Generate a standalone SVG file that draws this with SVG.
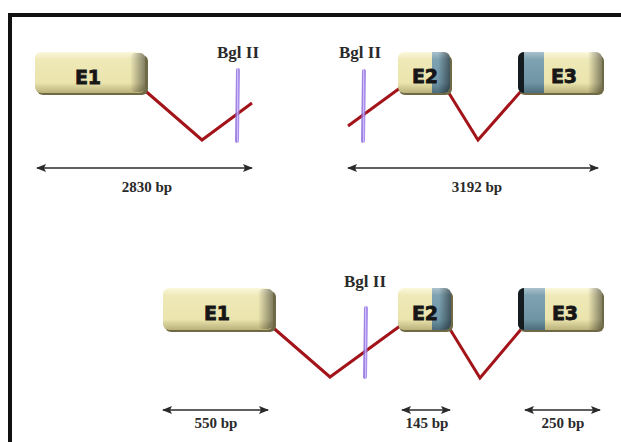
<svg xmlns="http://www.w3.org/2000/svg" width="621" height="442" viewBox="0 0 621 442">
  <defs>
    <linearGradient id="gYellow" x1="0" y1="0" x2="0" y2="1">
      <stop offset="0" stop-color="#fbf8dc"/>
      <stop offset="0.18" stop-color="#efe9b8"/>
      <stop offset="0.75" stop-color="#ebe4ad"/>
      <stop offset="1" stop-color="#b9b07a"/>
    </linearGradient>
    <linearGradient id="gBlue" x1="0" y1="0" x2="0" y2="1">
      <stop offset="0" stop-color="#a9c2cc"/>
      <stop offset="0.18" stop-color="#7fa2b1"/>
      <stop offset="0.75" stop-color="#6f95a5"/>
      <stop offset="1" stop-color="#4c6c7a"/>
    </linearGradient>
    <linearGradient id="gSide" x1="0" y1="0" x2="1" y2="0">
      <stop offset="0" stop-color="#000" stop-opacity="0"/>
      <stop offset="1" stop-color="#000" stop-opacity="0.45"/>
    </linearGradient>
    <linearGradient id="gPurple" x1="0" y1="0" x2="1" y2="0">
      <stop offset="0" stop-color="#8f6fe0"/>
      <stop offset="0.5" stop-color="#c9aef8"/>
      <stop offset="1" stop-color="#9c7ee6"/>
    </linearGradient>
    <marker id="ah" viewBox="0 0 10 8" refX="9" refY="4" markerWidth="10" markerHeight="8" markerUnits="userSpaceOnUse" orient="auto-start-reverse">
      <path d="M0,0 L10,4 L0,8 L2,4 Z" fill="#2a2a2a"/>
    </marker>
    <clipPath id="cTopE2"><rect x="398" y="52" width="52" height="41" rx="6"/></clipPath>
    <clipPath id="cTopE3"><rect x="518" y="52" width="84" height="41" rx="6"/></clipPath>
    <clipPath id="cBotE2"><rect x="398" y="288" width="53" height="42" rx="6"/></clipPath>
    <clipPath id="cBotE3"><rect x="518" y="288" width="84" height="42" rx="6"/></clipPath>
  </defs>
  <style>
    .frame { fill: none; stroke: #111; stroke-width: 4; }
    .intron { fill: none; stroke: #a3141a; stroke-width: 3; stroke-linejoin: miter; }
    .site { stroke: url(#gPurple); stroke-width: 4; stroke-linecap: round; opacity: 0.85; }
    .face { fill: url(#gYellow); }
    .blue { fill: url(#gBlue); }
    .shadow { fill: #6f6a45; }
    .side { fill: url(#gSide); }
    .edge { fill: #151c20; }
    .ex { font-family: "DejaVu Sans", "Liberation Sans", sans-serif; font-weight: bold; font-size: 19px; fill: #161616; stroke: #161616; stroke-width: 0.8; text-anchor: middle; }
    .enz { font-family: "Liberation Serif", "DejaVu Serif", serif; font-weight: bold; font-size: 17px; fill: #2a2a2a; }
    .len { font-family: "Liberation Serif", "DejaVu Serif", serif; font-weight: bold; font-size: 15px; fill: #2a2a2a; text-anchor: middle; }
    .dim { stroke: #2a2a2a; stroke-width: 1.6; marker-start: url(#ah); marker-end: url(#ah); }
  </style>

  <rect width="621" height="442" fill="#ffffff"/>
  <path class="frame" d="M10,442 V15 H621"/>

  <!-- introns and cut sites -->
  <g id="connectors">
    <polyline class="intron" points="142,88 202,140 252,103"/>
    <polyline class="intron" points="348,126 400,88"/>
    <polyline class="intron" points="447,90 478,140 522,90"/>
    <polyline class="intron" points="270,325 330,377 400,326"/>
    <polyline class="intron" points="448,326 480,378 523,327"/>
  </g>

  <g id="sites">
    <line class="site" x1="238" y1="70" x2="237" y2="141"/>
    <line class="site" x1="364" y1="71" x2="363" y2="141"/>
    <line class="site" x1="366" y1="308" x2="365" y2="377"/>
  </g>

  <!-- upper row: genomic fragments -->
  <g id="top-e1">
    <rect class="shadow" x="37" y="55" width="111" height="40" rx="6"/>
    <rect class="face" x="35" y="52" width="110" height="41" rx="6"/>
    <rect class="side" x="130" y="53" width="15" height="39" rx="5"/>
    <text class="ex" x="88" y="84">E1</text>
  </g>
  <g id="top-bgl-left"><text class="enz" x="217" y="58">Bgl II</text></g>
  <g id="top-bgl-right"><text class="enz" x="339" y="58">Bgl II</text></g>

  <g id="top-e2">
    <rect class="shadow" x="399" y="55" width="53" height="40" rx="6"/>
    <g clip-path="url(#cTopE2)">
      <rect class="face" x="398" y="52" width="52" height="41"/>
      <rect class="blue" x="432" y="52" width="18" height="41"/>
      <rect class="side" x="438" y="52" width="12" height="41"/>
    </g>
    <text class="ex" x="425" y="83">E2</text>
  </g>
  <g id="top-e3">
    <rect class="shadow" x="519" y="55" width="85" height="40" rx="6"/>
    <g clip-path="url(#cTopE3)">
      <rect class="face" x="518" y="52" width="84" height="41"/>
      <rect class="blue" x="518" y="52" width="26" height="41"/>
      <rect class="edge" x="518" y="52" width="6" height="41"/>
      <rect class="side" x="588" y="52" width="14" height="41"/>
    </g>
    <text class="ex" x="564" y="83">E3</text>
  </g>

  <g id="top-dims">
    <line class="dim" x1="37" y1="168" x2="252" y2="168"/>
    <text class="len" x="147" y="192">2830 bp</text>
    <line class="dim" x1="348" y1="168" x2="598" y2="168"/>
    <text class="len" x="477" y="192">3192 bp</text>
  </g>

  <!-- lower row: combined construct -->
  <g id="bot-e1">
    <rect class="shadow" x="165" y="291" width="111" height="41" rx="6"/>
    <rect class="face" x="163" y="288" width="110" height="42" rx="6"/>
    <rect class="side" x="258" y="289" width="15" height="40" rx="5"/>
    <text class="ex" x="217" y="320">E1</text>
  </g>
  <g id="bot-bgl"><text class="enz" x="344" y="287">Bgl II</text></g>
  <g id="bot-e2">
    <rect class="shadow" x="399" y="291" width="54" height="41" rx="6"/>
    <g clip-path="url(#cBotE2)">
      <rect class="face" x="398" y="288" width="53" height="42"/>
      <rect class="blue" x="432" y="288" width="19" height="42"/>
      <rect class="side" x="439" y="288" width="12" height="42"/>
    </g>
    <text class="ex" x="425" y="320">E2</text>
  </g>
  <g id="bot-e3">
    <rect class="shadow" x="519" y="291" width="85" height="41" rx="6"/>
    <g clip-path="url(#cBotE3)">
      <rect class="face" x="518" y="288" width="84" height="42"/>
      <rect class="blue" x="518" y="288" width="27" height="42"/>
      <rect class="edge" x="518" y="288" width="6" height="42"/>
      <rect class="side" x="588" y="288" width="14" height="42"/>
    </g>
    <text class="ex" x="565" y="320">E3</text>
  </g>

  <g id="bot-dims">
    <line class="dim" x1="163" y1="410" x2="268" y2="410"/>
    <text class="len" x="216" y="428">550 bp</text>
    <line class="dim" x1="402" y1="410" x2="450" y2="410"/>
    <text class="len" x="427" y="428">145 bp</text>
    <line class="dim" x1="525" y1="410" x2="600" y2="410"/>
    <text class="len" x="563" y="428">250 bp</text>
  </g>
</svg>
